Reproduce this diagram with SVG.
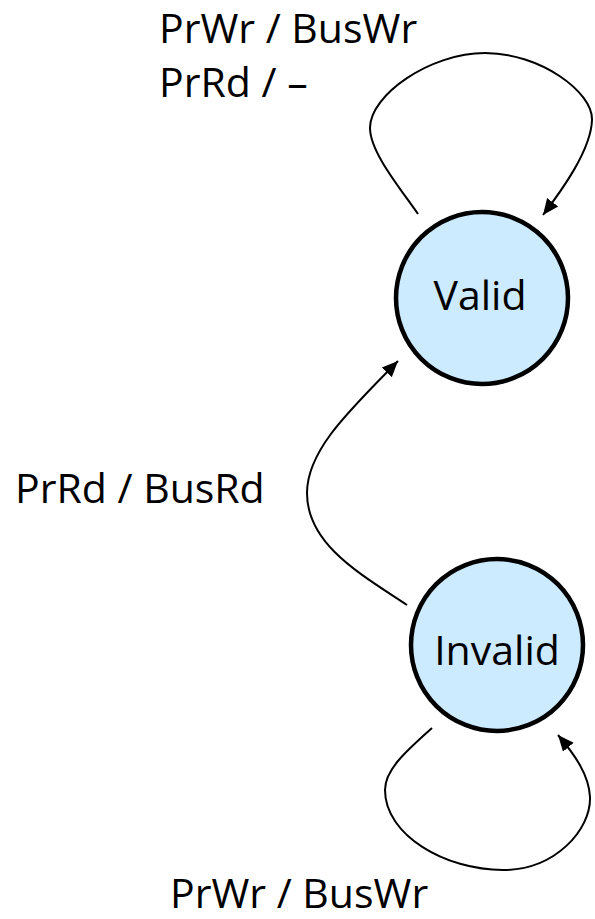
<svg xmlns="http://www.w3.org/2000/svg" width="595" height="919" viewBox="0 0 595 919">
  <style>
    .state { fill: #CDEBFF; stroke: #000; stroke-width: 4.5; }
    .label { font-family: "Open Sans", "Liberation Sans", sans-serif; font-size: 41px; fill: #000; }
    .edge { fill: none; stroke: #000; stroke-width: 2; marker-end: url(#arrow); }
  </style>
  <defs>
    <marker id="arrow" markerUnits="userSpaceOnUse" markerWidth="18" markerHeight="16" refX="16" refY="7" orient="auto" viewBox="0 0 18 14">
      <path d="M0,0 L16,7 L0,14 Z" fill="#000"/>
    </marker>
  </defs>

  <rect width="595" height="919" fill="#fff"/>

  <g id="edges">
    <path class="edge" d="M418,214 C400,188 370,152 370,128 C370,95 430,53 485,53 C540,53 593,92 592,120 C591,150 562,190 543,215"/>
    <path class="edge" d="M407,605 C362,575 307,545 307,493 C307,450 350,410 398,361"/>
    <path class="edge" d="M432,728 C405,752 385,770 385,790 C385,835 445,870 503,870 C555,870 591,830 590,797 C589,775 575,755 558,735"/>
  </g>

  <g id="valid">
    <circle class="state" cx="482" cy="298" r="86"/>
    <text class="label" x="480" y="310" text-anchor="middle">Valid</text>
  </g>

  <g id="invalid">
    <circle class="state" cx="497" cy="645" r="86"/>
    <text class="label" x="497" y="665" text-anchor="middle">Invalid</text>
  </g>

  <g id="labels">
    <text class="label" x="159" y="43">PrWr / BusWr</text>
    <text class="label" x="159" y="97">PrRd / –</text>
    <text class="label" x="15" y="503">PrRd / BusRd</text>
    <text class="label" x="170" y="908">PrWr / BusWr</text>
  </g>
</svg>
